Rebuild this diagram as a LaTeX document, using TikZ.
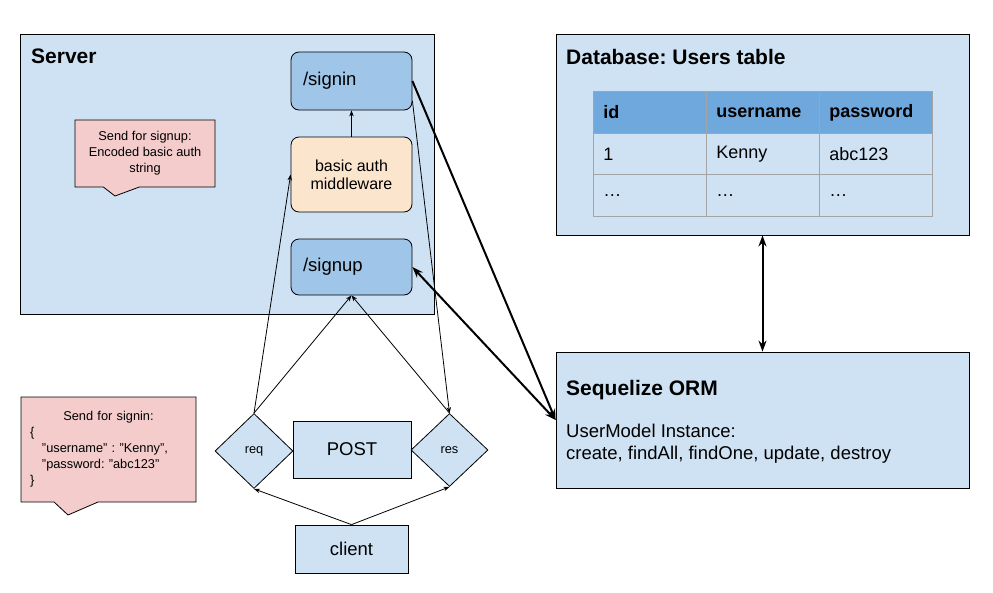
\documentclass[tikz,border=0pt]{standalone}
\usepackage{fontspec}
\setmainfont{Liberation Sans}
\usepackage{tikz}
\usetikzlibrary{positioning}
\usetikzlibrary{shapes.geometric}
\usetikzlibrary{shapes.callouts}
\usetikzlibrary{arrows.meta}
\definecolor{boxColor}{HTML}{CFE2F3}
\definecolor{routeColor}{HTML}{9FC5E8}
\definecolor{headColor}{HTML}{6FA8DC}
\definecolor{middleColor}{HTML}{FCE5CD}
\definecolor{noteColor}{HTML}{F4CCCC}
\definecolor{gridColor}{HTML}{A4A4A4}
\frenchspacing

\begin{document}
\begin{tikzpicture}[x=1pt, y=-1pt]

          \tikzstyle{boxNode} = [draw, line width=0.8pt, fill=boxColor, inner sep=0pt];
          \tikzstyle{titleNode} = [anchor=base west, inner sep=0pt, font=\fontsize{21}{25}\selectfont\bfseries];
          \tikzstyle{routeNode} = [draw, line width=0.8pt, fill=routeColor, rounded corners=8pt, minimum width=121pt, text width=97pt, inner xsep=12pt, align=left, font=\fontsize{18.5}{22}\selectfont];
          \tikzstyle{middleNode} = [draw, line width=0.8pt, fill=middleColor, rounded corners=8pt, minimum width=121pt, minimum height=75pt, align=center, font=\fontsize{16}{18}\selectfont];
          \tikzstyle{noteNode} = [draw, line width=0.8pt, fill=noteColor, rectangle callout, font=\fontsize{12.8}{16}\selectfont];
          \tikzstyle{flowNode} = [draw, line width=0.8pt, fill=boxColor, inner sep=0pt, font=\fontsize{18.5}{22}\selectfont];
          \tikzstyle{gateNode} = [draw, line width=0.8pt, fill=boxColor, diamond, aspect=1, inner sep=0pt, font=\fontsize{12.8}{15}\selectfont];
          \tikzstyle{headCell} = [draw=gridColor, line width=0.8pt, fill=headColor, anchor=north west, minimum height=42pt, text width=93pt, inner xsep=10pt, inner ysep=0pt, align=left, font=\fontsize{18}{21}\selectfont\bfseries];
          \tikzstyle{bodyCell} = [draw=gridColor, line width=0.8pt, fill=boxColor, anchor=north west, minimum height=41pt, text width=93pt, inner xsep=10pt, inner ysep=0pt, align=left, font=\fontsize{18}{21}\selectfont];

          \tikzstyle{thinEdge} = [line width=0.8pt, -{Stealth[length=6pt, width=4.5pt]}];
          \tikzstyle{thickEdge} = [line width=2pt, -{Stealth[length=11pt, width=8pt]}];
          \tikzstyle{bothEdge} = [line width=2pt, {Stealth[length=11pt, width=8pt]}-{Stealth[length=11pt, width=8pt]}];

          \useasboundingbox (0,0) rectangle (993,592);

          % server side
          \node[boxNode, minimum width=414pt, minimum height=280pt] (server) at (227,174) {};
          \node[titleNode] (serverTitle) at (31,63.5) {Server};
          \node[routeNode, minimum height=58pt] (signin) at (351.5,81) {/signin};
          \node[middleNode] (middleware) at (351.5,174.5) {basic auth\\middleware};
          \node[routeNode, minimum height=56pt] (signup) at (351.5,267) {/signup};
          \node[noteNode, minimum width=140pt, minimum height=67pt, align=center, callout absolute pointer={(115,196)}, callout pointer width=36pt] (signupNote) at (145,153.5) {Send for signup:\\Encoded basic auth\\string};

          % client side
          \node[noteNode, minimum width=175pt, minimum height=105pt, text width=157pt, inner xsep=9pt, align=left, callout absolute pointer={(68,515)}, callout pointer width=44pt] (signinNote) at (108.5,449.5) {\null\hfill Send for signin:\hfill\null\\\{\\\hspace*{12pt}"username" : "Kenny",\\\hspace*{12pt}"password: "abc123"\\\}};
          \node[gateNode, minimum width=78pt, minimum height=75pt] (req) at (254,451) {req};
          \node[flowNode, minimum width=118pt, minimum height=57pt] (post) at (352,449.5) {POST};
          \node[gateNode, minimum width=77pt, minimum height=73pt] (res) at (449.5,450) {res};
          \node[flowNode, minimum width=113pt, minimum height=48pt] (client) at (351.5,549) {client};

          % database
          \node[boxNode, minimum width=413pt, minimum height=201pt] (db) at (762.5,134.5) {};
          \node[titleNode] (dbTitle) at (566,64) {Database: Users table};
          \node[headCell] (hId) at (593,91) {id};
          \node[headCell] (hName) at (706,91) {username};
          \node[headCell] (hPass) at (819,91) {password};
          \node[bodyCell] (rId) at (593,133) {1};
          \node[bodyCell] (rName) at (706,133) {Kenny};
          \node[bodyCell] (rPass) at (819,133) {abc123};
          \node[bodyCell, minimum height=42pt] (dId) at (593,174) {…};
          \node[bodyCell, minimum height=42pt] (dName) at (706,174) {…};
          \node[bodyCell, minimum height=42pt] (dPass) at (819,174) {…};

          % orm
          \node[boxNode, minimum width=413pt, minimum height=136pt] (orm) at (762.5,420) {};
          \node[titleNode] (ormTitle) at (566,395) {Sequelize ORM};
          \node[anchor=west, inner sep=0pt, align=left, font=\fontsize{18.5}{22}\selectfont] (ormText) at (566,444) {UserModel Instance:\\create, findAll, findOne, update, destroy};

          \draw[thinEdge] (middleware) -- (signin);
          \draw[thinEdge] (req.north) -- (middleware.west);
          \draw[thinEdge] (req.north) -- (signup.south);
          \draw[thinEdge] (res.north) -- (signup.south);
          \draw[thinEdge] (signin.-18) -- (res.north);
          \draw[thinEdge] (client.north) -- (req.south);
          \draw[thinEdge] (client.north) -- (res.south);
          \draw[thickEdge] (signin.east) -- (orm.west);
          \draw[bothEdge] (signup.east) -- (orm.west);
          \draw[bothEdge] (db.south) -- (orm.north);
        \end{tikzpicture}
\end{document}
